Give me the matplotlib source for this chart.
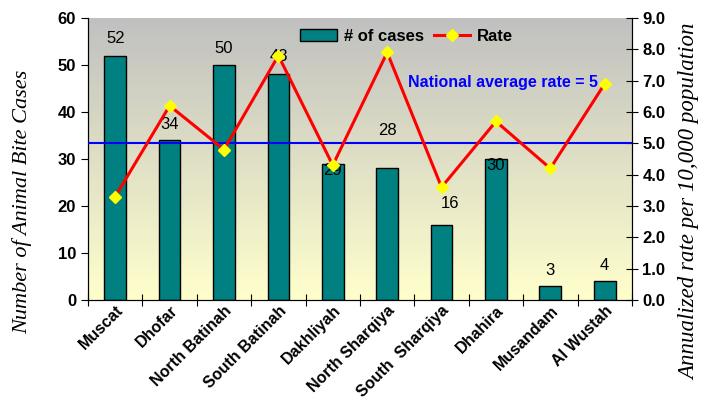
import numpy as np
import matplotlib.pyplot as plt
from matplotlib.patches import Patch
from matplotlib.lines import Line2D

regions = ["Muscat", "Dhofar", "North Batinah", "South Batinah", "Dakhliyah",
           "North Sharqiya", "South  Sharqiya", "Dhahira", "Musandam", "Al Wustah"]
cases = [52, 34, 50, 48, 29, 28, 16, 30, 3, 4]
rates = [3.3, 6.2, 4.8, 7.8, 4.3, 7.9, 3.6, 5.7, 4.2, 6.9]
national_rate = 5

# vertical nudges (points) for the case-count labels so they dodge the rate line
label_dy = [12, 11, 12, 13, -5, 27, 15, -5, 11, 11]
label_dx = [0, 0, 0, 0, 0, 0, 6, 0, 0, 0]

plt.rcParams['font.family'] = ['Liberation Sans', 'DejaVu Sans']

fig = plt.figure(figsize=(7.1, 4.0), dpi=100)
ax = fig.add_axes([0.124, 0.25, 0.766, 0.705])
x = np.arange(len(regions))

# gray-to-pale-yellow backdrop
top = np.array([192, 192, 192]) / 255
bottom = np.array([255, 255, 204]) / 255
t = np.linspace(0, 1, 256)[:, None]
grad = (top * (1 - t) + bottom * t)[:, None, :]
ax.imshow(grad, extent=[-0.5, 9.5, 0, 60], aspect='auto', zorder=0)

ax.bar(x, cases, width=0.4, color='#008080', edgecolor='black', linewidth=1, zorder=2)
for xi, v, dx, dy in zip(x, cases, label_dx, label_dy):
    ax.annotate(str(v), (xi, v), xytext=(dx, dy), textcoords='offset points',
                ha='center', va='center', fontsize=12, zorder=5)

ax.set_xlim(-0.5, 9.5)
ax.set_ylim(0, 60)
ax.set_yticks(range(0, 61, 10))
ax.set_xticks(np.arange(-0.5, 10, 1))
ax.set_xticklabels([])
ax.set_xticks(x, minor=True)
ax.set_xticklabels(regions, minor=True, rotation=45, ha='right', rotation_mode='anchor',
                   fontsize=11.5, fontweight='bold')
ax.tick_params(axis='x', which='minor', length=0, pad=2)
ax.tick_params(axis='x', which='major', length=9, direction='inout')
ax.tick_params(axis='y', length=5, labelsize=12)
for lab in ax.get_yticklabels():
    lab.set_fontweight('bold')
ax.spines['top'].set_visible(False)

ax2 = ax.twinx()
ax2.plot(x, rates, color='red', lw=2.2, marker='D', markersize=6,
         markerfacecolor='yellow', markeredgecolor='yellow', zorder=4)
ax2.axhline(national_rate, color='blue', lw=1.5, zorder=3)
ax2.text(8.88, 6.93, 'National average rate = 5', color='blue', fontsize=11.5,
         fontweight='bold', ha='right', va='center')
ax2.set_ylim(0, 9)
ax2.set_yticks(np.arange(0, 9.1, 1))
ax2.set_yticklabels([f'{v:.1f}' for v in np.arange(0, 9.1, 1)], fontsize=12, fontweight='bold')
ax2.tick_params(axis='y', length=8, direction='inout')
ax2.spines['top'].set_visible(False)

fig.text(0.031, 0.495, 'Number of Animal Bite Cases', family='Liberation Serif',
         style='italic', fontsize=16, rotation=90, ha='center', va='center')
fig.text(0.972, 0.495, 'Annualized rate per 10,000 population', family='Liberation Serif',
         style='italic', fontsize=16.5, rotation=90, ha='center', va='center')

handles = [Patch(facecolor='#008080', edgecolor='black'),
           Line2D([], [], color='red', lw=2.2, marker='D', markersize=6,
                  markerfacecolor='yellow', markeredgecolor='yellow')]
ax2.legend(handles, ['# of cases', 'Rate'], ncol=2, frameon=False,
           loc='center', bbox_to_anchor=(0.586, 0.935), prop={'weight': 'bold', 'size': 12},
           handlelength=2.2, columnspacing=0.6, handletextpad=0.4)

fig.savefig('out.png', dpi=100)
